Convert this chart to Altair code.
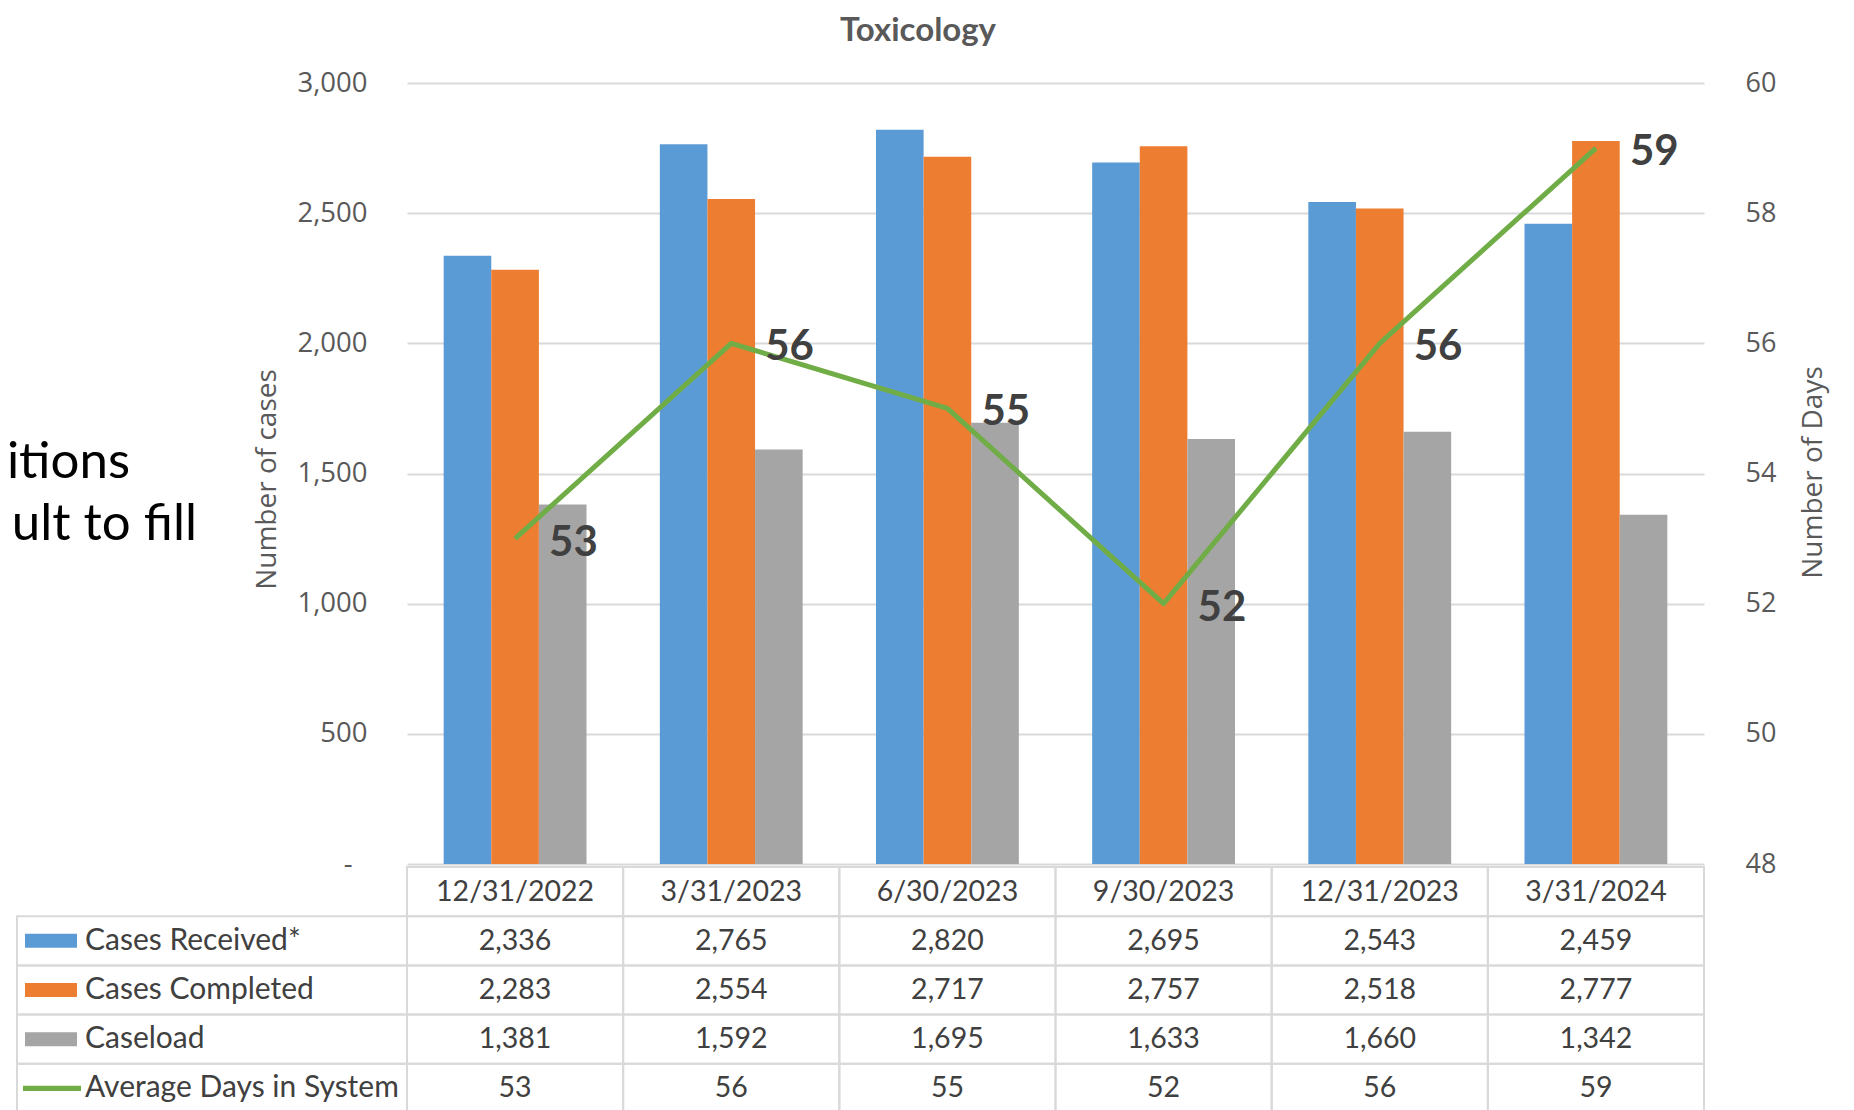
import altair as alt
import pandas as pd

# ---------------- data ----------------
dates = ["12/31/2022", "3/31/2023", "6/30/2023", "9/30/2023", "12/31/2023", "3/31/2024"]
received = [2336, 2765, 2820, 2695, 2543, 2459]
completed = [2283, 2554, 2717, 2757, 2518, 2777]
caseload = [1381, 1592, 1695, 1633, 1660, 1342]
avg_days = [53, 56, 55, 52, 56, 59]

bar_series = ["Cases Received*", "Cases Completed", "Caseload"]
line_series = "Average Days in System"
all_series = bar_series + [line_series]
series_colors = ["#5B9BD5", "#ED7D31", "#A5A5A5", "#70AD47"]

left_ticks = [0, 500, 1000, 1500, 2000, 2500, 3000]
right_ticks = [48, 50, 52, 54, 56, 58, 60]

# ---------------- tables built from the lists ----------------
bars_rows = []
for name, vals in zip(bar_series, [received, completed, caseload]):
    for d, v in zip(dates, vals):
        bars_rows.append({"date": d, "series": name, "value": v})
bars_df = pd.DataFrame(bars_rows)

line_df = pd.DataFrame({"date": dates, "days": avg_days})

table_rows = ["hdr"] + all_series
cells = []
for d in dates:
    cells.append({"date": d, "row": "hdr", "txt": d})
for name, vals in zip(all_series, [received, completed, caseload, avg_days]):
    for d, v in zip(dates, vals):
        cells.append({"date": d, "row": name, "txt": f"{v:,}"})
cells_df = pd.DataFrame(cells)

legend_df = pd.DataFrame({"row": all_series})
title_df = pd.DataFrame({"t": ["Toxicology"]})
slide_df = pd.DataFrame({"a": ["itions"], "b": ["ult to fill"]})

# ---------------- styling ----------------
GRID = "#D9D9D9"
AX = "#595959"
TXT = "#404040"
W, H = 1297, 781

x_enc = alt.X("date:N", sort=dates, axis=None,
              scale=alt.Scale(paddingInner=0, paddingOuter=0))
row_y = alt.Y("row:N", sort=table_rows, axis=None,
              scale=alt.Scale(domain=table_rows, range=[784, 1030],
                              paddingInner=0, paddingOuter=0))
color_scale = alt.Scale(domain=all_series, range=series_colors)

bars = alt.Chart(bars_df).mark_bar().encode(
    x=x_enc,
    xOffset=alt.XOffset("series:N", sort=bar_series,
                        scale=alt.Scale(paddingInner=0, paddingOuter=0.77)),
    y=alt.Y("value:Q",
            scale=alt.Scale(domain=[0, 3000], nice=False),
            axis=alt.Axis(values=left_ticks,
                          labelExpr="datum.value == 0 ? '-' : format(datum.value, ',')",
                          labelFont="Open Sans", labelFontSize=27.5, labelColor=AX,
                          labelPadding={"condition": {"test": "datum.value == 0", "value": 55},
                                        "value": 40},
                          ticks=False, domain=False,
                          grid=True, gridColor=GRID, gridWidth=2,
                          title="Number of cases", titleFont="Open Sans",
                          titleFontSize=28, titleFontWeight="normal", titleColor=AX,
                          titleX=-140, titleY=396, titleAngle=270,
                          titleAlign="center", titleBaseline="middle")),
    color=alt.Color("series:N", scale=color_scale, legend=None),
)

days_scale = alt.Scale(domain=[48, 60], nice=False)

line = alt.Chart(line_df).mark_line(color="#70AD47", strokeWidth=5,
                                    strokeJoin="round").encode(
    x=x_enc,
    y=alt.Y("days:Q", scale=days_scale,
            axis=alt.Axis(orient="right", values=right_ticks,
                          labelFont="Open Sans", labelFontSize=27, labelColor=AX,
                          labelPadding=41, ticks=False, domain=False, grid=False,
                          title="Number of Days", titleFont="Open Sans",
                          titleFontSize=28, titleFontWeight="normal", titleColor=AX,
                          titleX=109, titleY=389, titleAngle=270,
                          titleAlign="center", titleBaseline="middle")),
)

line_labels = alt.Chart(line_df).mark_text(
    align="left", baseline="middle", dx=34, dy=4,
    font="Lato", fontSize=42, fontWeight="bold", color=TXT
).encode(
    x=x_enc,
    y=alt.Y("days:Q", scale=days_scale, axis=None),
    text="days:Q",
)

# table: data cells
cell_rects = alt.Chart(cells_df).mark_rect(
    fillOpacity=0, stroke=GRID, strokeWidth=2
).encode(x=x_enc, y=row_y)

cell_text = alt.Chart(cells_df).mark_text(
    font="Lato", fontSize=28.5, color=TXT, baseline="middle", align="center"
).encode(x=x_enc, y=row_y, text="txt:N")

# legend column of table
legend_rects = alt.Chart(legend_df).mark_rect(
    fillOpacity=0, stroke=GRID, strokeWidth=2
).encode(x=alt.value(-390), x2=alt.value(0), y=row_y)

bar_swatch = alt.Chart(legend_df).transform_filter(
    alt.FieldOneOfPredicate(field="row", oneOf=bar_series)
).mark_point(filled=True, opacity=1,
             shape="M-1,-0.27L1,-0.27L1,0.27L-1,0.27Z", size=2704).encode(
    x=alt.value(-356), y=row_y,
    color=alt.Color("row:N", scale=color_scale, legend=None),
)

line_swatch = alt.Chart(legend_df).transform_filter(
    alt.FieldEqualPredicate(field="row", equal=line_series)
).mark_point(filled=True, opacity=1,
             shape="M-1,-0.09L1,-0.09L1,0.09L-1,0.09Z", size=3364).encode(
    x=alt.value(-355), y=row_y,
    color=alt.Color("row:N", scale=color_scale, legend=None),
)

legend_text = alt.Chart(legend_df).mark_text(
    font="Lato", fontSize=30, color=TXT, align="left", baseline="middle"
).encode(x=alt.value(-322), y=row_y, text="row:N")

title = alt.Chart(title_df).mark_text(
    font="Lato", fontSize=33, fontWeight="bold", color=AX,
    align="center", baseline="alphabetic"
).encode(x=alt.value(511), y=alt.value(-42), text="t:N")

slide1 = alt.Chart(slide_df).mark_text(
    font="Lato", fontSize=51, color="#000000", align="right", baseline="alphabetic"
).encode(x=alt.value(-277), y=alt.value(395), text="a:N")
slide2 = alt.Chart(slide_df).mark_text(
    font="Lato", fontSize=51, color="#000000", align="right", baseline="alphabetic"
).encode(x=alt.value(-210), y=alt.value(457), text="b:N")

chart = alt.layer(
    bars, line, line_labels, cell_rects, cell_text, legend_rects,
    bar_swatch, line_swatch, legend_text, title, slide1, slide2
).resolve_scale(y="independent").properties(
    width=W, height=H,
    autosize=alt.AutoSizeParams(type="none"),
    padding={"left": 399, "top": 75, "right": 128, "bottom": 246},
    background="white",
).configure_view(strokeWidth=0)

chart.save("out.html", embed_options={"renderer": "svg", "actions": False})
